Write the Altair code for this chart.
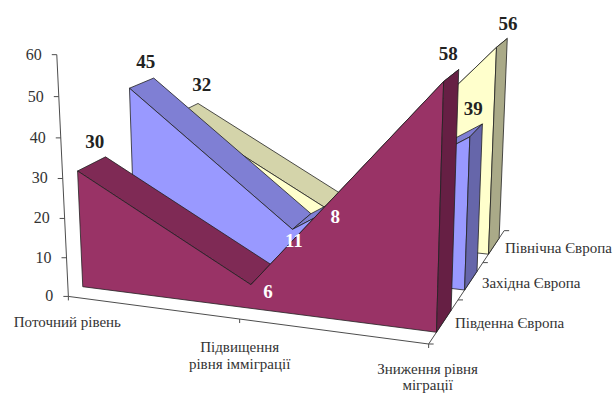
import numpy as np
import altair as alt

# Chart values
CATEGORIES = [["Поточний рівень"], ["Підвищення", "рівня імміграції"], ["Зниження рівня", "міграції"]]
REGIONS = ["Південна Європа", "Західна Європа", "Північна Європа"]
SOUTH = [30, 6, 58]
WEST = [45, 11, 39]
NORTH = [32, 8, 56]
VALUE_TICKS = [0, 10, 20, 30, 40, 50, 60]

# Ribbon colours: front face, top surface, end cap
SOUTH_COLORS = ("#993366", "#7F2A55", "#661F44")
WEST_COLORS = ("#9999FF", "#7F7FD4", "#6666AA")
NORTH_COLORS = ("#FFFFCC", "#D4D4AA", "#AAAA88")

# Perspective camera: (category, depth, value) -> screen position
CAMERA = np.array([
    [160.071, 64.4524, -0.237955, 68.3638],
    [7.69232, -15.1939, -4.07275, 296.417],
    [-0.0468113, 0.0825951, -0.000794644, 1.0],
])

FONT = "Liberation Serif"
AXIS_COLOR = "#4d4d4d"
TEXT_COLOR = "#333333"
EDGE = "#222222"

# Label nudges away from each ribbon's top edge, by region then category
LABEL_OFFSETS = [
    [(3, -22), (6, 17), (-3, -21)],
    [(4, -21), (-8, 20), (-3, -21)],
    [(14, -23), (-1, 15), (6, -19)],
]
# Labels drawn in white because they sit on the dark ribbon
LIGHT_LABELS = {(0, 1), (1, 1), (2, 1)}


def project(cat, depth, value):
    q = CAMERA @ np.array([cat, depth, value, 1.0])
    return float(q[0] / q[2]), float(q[1] / q[2])


SX = alt.Scale(domain=[0, 614], range=[0, 614])
SY = alt.Scale(domain=[0, 394], range=[0, 394])
X = alt.X("px:Q", scale=SX, axis=None)
Y = alt.Y("py:Q", scale=SY, axis=None)


def polygon(corners, fill):
    rows = [{"px": project(*c)[0], "py": project(*c)[1], "i": i} for i, c in enumerate(corners)]
    return alt.Chart(alt.Data(values=rows)).mark_line(
        interpolate="linear-closed", fill=fill, stroke=EDGE, strokeWidth=0.8
    ).encode(x=X, y=Y, order="i:Q")


def segment(a, b, width=1.0):
    rows = [{"px": a[0], "py": a[1], "i": 0}, {"px": b[0], "py": b[1], "i": 1}]
    return alt.Chart(alt.Data(values=rows)).mark_line(
        stroke=AXIS_COLOR, strokeWidth=width
    ).encode(x=X, y=Y, order="i:Q")


def labels(rows, **style):
    return alt.Chart(alt.Data(values=rows)).mark_text(
        font=FONT, baseline="middle", **style
    ).encode(x=X, y=Y, text="t:N")


layers = []

# Axes of the floor and the value wall, then their ticks
layers.append(segment(project(0, 0, 0), project(0, 0, 60)))
layers.append(segment(project(0, 0, 0), project(2, 0, 0)))
layers.append(segment(project(2, 0, 0), project(2, 3, 0)))
for v in VALUE_TICKS:
    p = project(0, 0, v)
    layers.append(segment((p[0] - 5, p[1]), p))
for c in range(3):
    p = project(c, 0, 0)
    layers.append(segment(p, (p[0], p[1] + 4)))
for d in range(4):
    p = project(2, d, 0)
    layers.append(segment(p, (p[0] + 5, p[1])))

# Ribbons, farthest first so nearer ones cover them
for s, vals, (face, top, cap) in [(2, NORTH, NORTH_COLORS), (1, WEST, WEST_COLORS), (0, SOUTH, SOUTH_COLORS)]:
    f, k = s + 0.25, s + 0.75
    layers.append(polygon([(0, f, vals[0]), (1, f, vals[1]), (1, k, vals[1]), (0, k, vals[0])], top))
    layers.append(polygon([(1, f, vals[1]), (2, f, vals[2]), (2, k, vals[2]), (1, k, vals[1])], top))
    layers.append(polygon([(0, f, 0), (0, f, vals[0]), (1, f, vals[1]), (2, f, vals[2]), (2, f, 0)], face))
    layers.append(polygon([(2, f, 0), (2, f, vals[2]), (2, k, vals[2]), (2, k, 0)], cap))

# Value labels
dark, light = [], []
for s, vals in enumerate([SOUTH, WEST, NORTH]):
    for c, v in enumerate(vals):
        px, py = project(c, s + 0.5, v)
        dx, dy = LABEL_OFFSETS[s][c]
        row = {"px": px + dx, "py": py + dy, "t": str(v)}
        (light if (s, c) in LIGHT_LABELS else dark).append(row)
layers.append(labels(dark, fontSize=19, fontWeight="bold", color="#222222", align="center"))
layers.append(labels(light, fontSize=19, fontWeight="bold", color="#ffffff", align="center"))

# Value axis labels
rows = []
for v in VALUE_TICKS:
    p = project(0, 0, v)
    rows.append({"px": p[0] - 15, "py": p[1], "t": str(v)})
layers.append(labels(rows, fontSize=16, color=TEXT_COLOR, align="right"))

# Category labels under the front floor edge
rows = []
for c, (lines, gap, step) in enumerate(zip(CATEGORIES, [26, 28, 25], [0, 16.5, 15.5])):
    p = project(c, 0, 0)
    shift = [-1, 0, -1][c]
    for j, line in enumerate(lines):
        rows.append({"px": p[0] + shift, "py": p[1] + gap + j * step, "t": line})
layers.append(labels(rows, fontSize=15, color=TEXT_COLOR, align="center"))

# Region labels beside the depth axis
rows = []
for s, name in enumerate(REGIONS):
    p = project(2, s + 0.5, 0)
    rows.append({"px": p[0] + 11, "py": p[1] + 2, "t": name})
layers.append(labels(rows, fontSize=15, color=TEXT_COLOR, align="left"))

chart = alt.layer(*layers).properties(
    width=614, height=394, padding=0, autosize=alt.AutoSizeParams(type="none")
).configure_view(stroke=None)
chart.save("out.html", embed_options={"renderer": "svg", "actions": False})
